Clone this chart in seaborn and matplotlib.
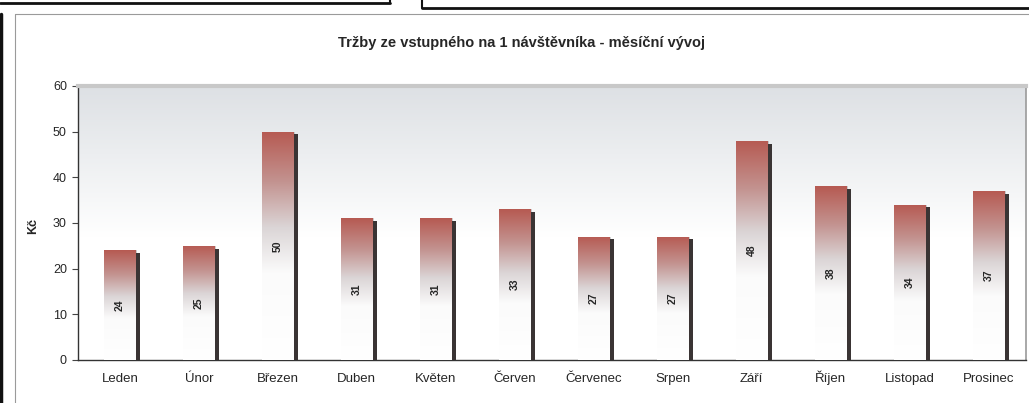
import numpy as np
import matplotlib
matplotlib.use("Agg")
import matplotlib.pyplot as plt
import seaborn as sns
from matplotlib.colors import LinearSegmentedColormap
from matplotlib.lines import Line2D
from matplotlib.patches import Rectangle

# Data
mesice = ["Leden", "Únor", "Březen", "Duben", "Květen", "Červen",
          "Červenec", "Srpen", "Září", "Říjen", "Listopad", "Prosinec"]
trzby = [24, 25, 50, 31, 31, 33, 27, 27, 48, 38, 34, 37]
popisky = ["24", "25", "50", "31", "31", "33", "27", "27", "48", "38", "34", "37"]
y_ticks = [0, 10, 20, 30, 40, 50, 60]

sns.set_style("white")
plt.rcParams['font.family'] = ['Liberation Sans', 'DejaVu Sans']

fig = plt.figure(figsize=(10.29, 4.03), dpi=100)
ax = fig.add_axes([0.0758, 0.1067, 0.9212, 0.68])

sns.barplot(x=mesice, y=trzby, color="#b5574f", width=0.4, ax=ax,
            saturation=1, zorder=3)

# gradient fill of bars (red-brown top -> white bottom)
cmap_bar = LinearSegmentedColormap.from_list(
    "bar", [(0, "#ffffff"), (0.38, "#fbfbfb"), (0.58, "#dbd5d6"),
            (0.78, "#c39390"), (1.0, "#b65a52")])
grad = np.linspace(0, 1, 256).reshape(-1, 1)
for p in list(ax.patches):
    x0, w, h = p.get_x(), p.get_width(), p.get_height()
    p.set_facecolor("none")
    p.set_edgecolor("#a8a8a8")
    p.set_linewidth(0.4)
    im = ax.imshow(grad, cmap=cmap_bar, origin="lower", aspect="auto",
                   extent=[x0, x0 + w, 0, h], zorder=3)
    im.set_clip_path(p)
    # dark side of the 3D column
    ax.add_patch(Rectangle((x0 + w, 0), 0.05, h - 0.6, color="#3a3434",
                           zorder=3, lw=0))

# value labels inside bars
for i, (v, t) in enumerate(zip(trzby, popisky)):
    ax.text(i, v / 2, t, rotation=90, ha="center", va="center",
            fontsize=7.5, fontweight="bold", zorder=5)

ax.set_xlim(-0.53, 11.47)
ax.set_ylim(0, 60)

# plot area background: light grey at top fading to white
cmap_bg = LinearSegmentedColormap.from_list(
    "bg", [(0, "#ffffff"), (0.45, "#ffffff"), (0.75, "#eceef0"), (1.0, "#dde0e4")])
ax.imshow(grad, cmap=cmap_bg, origin="lower", aspect="auto",
          extent=[0, 1, 0, 1], transform=ax.transAxes, zorder=0)
ax.set_xlim(-0.53, 11.47)
ax.set_ylim(0, 60)

ax.set_yticks(y_ticks)
ax.set_yticklabels([str(t) for t in y_ticks], fontsize=9)
ax.set_xticks(range(len(mesice)))
ax.set_xticklabels(mesice, fontsize=9.5)
for lab in ax.get_xticklabels():
    lab.set_verticalalignment("baseline")
ax.set_xticks([i + 0.5 for i in range(len(mesice) - 1)], minor=True)
ax.tick_params(axis="x", which="major", length=0, pad=16)
ax.tick_params(axis="x", which="minor", length=3, direction="out", color="#444444")
ax.tick_params(axis="y", length=4, direction="out", color="#444444", pad=4, left=True)
ax.set_xlabel("")
ax.set_ylabel("")

for s in ["left", "bottom"]:
    ax.spines[s].set_color("#333333")
    ax.spines[s].set_linewidth(1.0)
ax.spines["top"].set_color("#c8c8c8")
ax.spines["top"].set_linewidth(3)
ax.spines["right"].set_color("#9a9a9a")
ax.spines["right"].set_linewidth(1.2)

fig.text(0.507, 0.893, "Tržby ze vstupného na 1 návštěvníka - měsíční vývoj",
         ha="center", va="center", fontsize=10.5, fontweight="bold")
fig.text(0.032, 0.44, "Kč", rotation=90, ha="center", va="center",
         fontsize=9, fontweight="bold")

# scanned frame lines around the chart
W, H = 1029, 403
def fl(xs, ys, c, lw):
    fig.add_artist(Line2D([x / W for x in xs], [1 - y / H for y in ys],
                          color=c, lw=lw, transform=fig.transFigure))

fl([15, 1029], [14, 14], "#9a9a9a", 0.8)
fl([15, 15], [14, 403], "#9a9a9a", 0.8)
fl([1, 1], [14, 403], "#111111", 2.5)
fl([0, 390], [3, 3], "#111111", 2.0)
fl([390, 390], [0, 3], "#111111", 1.5)
fl([422, 422], [0, 8], "#111111", 1.5)
fl([422, 1029], [8, 8], "#111111", 2.0)

fig.savefig("out.png", dpi=100)
